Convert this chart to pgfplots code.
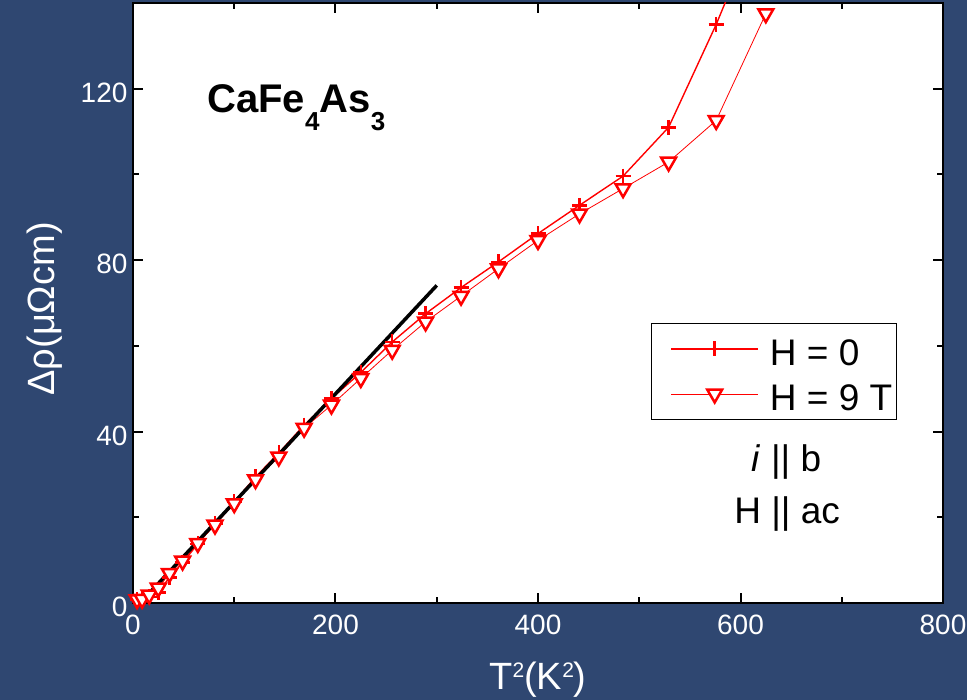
\documentclass[border=0pt]{standalone}
\usepackage{fontspec}
\setmainfont{Liberation Sans}
\usepackage{pgfplots}
\pgfplotsset{compat=1.18}
\definecolor{bgblue}{RGB}{47,71,113}

\begin{document}
\begin{tikzpicture}
\fill[bgblue] (-133pt,-97pt) rectangle (834pt,603pt);
\begin{axis}[
  at={(0pt,0pt)}, anchor=south west,
  scale only axis, width=810pt, height=600pt,
  xmin=0, xmax=800, ymin=0, ymax=140,
  axis background/.style={fill=white},
  axis line style={line width=2.5pt},
  xtick={0,200,...,800}, ytick={0,40,...,120},
  minor xtick={100,300,500,700}, minor ytick={20,60,100},
  tick align=inside, major tick length=10pt, minor tick length=6pt,
  every tick/.style={black, line width=2pt},
  tick label style={font=\fontsize{28}{34}\selectfont, text=white},
  xticklabel style={yshift=-8pt},
  yticklabel style={yshift=-4pt, xshift=-2pt},
  /pgf/number format/assume math mode=true,
  xlabel={T\raisebox{12pt}{\fontsize{21}{24}\selectfont 2}(K\raisebox{12pt}{\fontsize{21}{24}\selectfont 2})},
  ylabel={Δρ(μΩcm)},
  label style={font=\fontsize{38}{46}\selectfont, text=white},
  xlabel style={at={(axis description cs:0.5,-0.145)}, anchor=base},
  ylabel style={at={(axis description cs:-0.0963,0.49)}, anchor=base},
  clip mode=global,
  legend cell align=left,
  legend style={at={(axis description cs:0.6395,0.4667)}, anchor=north west,
    draw=black, line width=1pt, fill=white,
    font=\fontsize{37}{44}\selectfont,
    inner xsep=4pt, inner ysep=4pt, row sep=2pt, column sep=11pt,
    nodes={inner sep=0pt, text height=38pt, text depth=5pt}},
  legend image code/.code={\path (0pt,0pt) (102pt,0pt);
    \draw[mark repeat=2, mark phase=2, #1] plot coordinates {(15pt,0pt) (58.5pt,0pt) (102pt,0pt)};},
]
\addplot[red, line width=1.4pt, mark=+, mark size=7.5pt, mark options={line width=2.5pt}] table {
x y
4 0.8
9 0.9
16 1.4
25 2.4
36 6.0
49 9.4
64 13.8
81 18.6
100 23.6
121 29.4
144 35.0
169 41.5
196 47.7
225 53.8
256 60.9
289 67.5
324 73.6
361 79.6
400 86.2
441 92.8
484 99.6
529 111.0
576 135.0
625 163.0
};
\addlegendentry{H = 0}
\addplot[red, line width=0.8pt, mark=triangle*, mark size=8.5pt, mark options={rotate=180, fill=white, draw=red, line width=2.5pt}] table {
x y
4 0.8
9 0.9
16 1.9
25 3.5
36 6.9
49 9.8
64 13.9
81 18.2
100 23.2
121 28.8
144 34.1
169 40.8
196 46.2
225 52.4
256 59.0
289 65.6
324 71.6
361 78.0
400 84.6
441 90.8
484 96.7
529 102.9
576 112.6
625 137.5
};
\addlegendentry{H = 9 T}
\addplot[black, line width=3.5pt, forget plot] coordinates {(7,0) (300,74.1)};
\node[anchor=base west, font=\fontsize{40}{48}\selectfont\bfseries] at (axis cs:70,114.5)
  {CaFe\raisebox{-18pt}{\fontsize{26}{30}\selectfont 4}As\raisebox{-18pt}{\fontsize{26}{30}\selectfont 3}};
\node[anchor=base, font=\fontsize{37}{44}\selectfont] at (axis cs:645.4,30.6) {\textit{i} || b};
\node[anchor=base, font=\fontsize{37}{44}\selectfont] at (axis cs:646,18.6) {H || ac};
\end{axis}
\pgfresetboundingbox
\path (-133pt,-97pt) rectangle (834pt,603pt);
\end{tikzpicture}
\end{document}
